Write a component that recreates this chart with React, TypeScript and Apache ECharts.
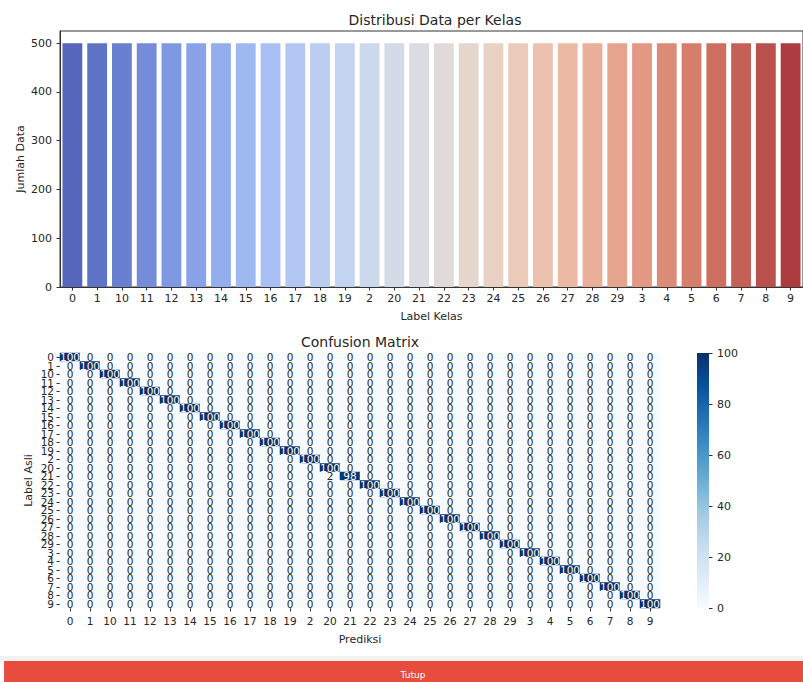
import React, { useEffect, useRef } from "react";
import * as echarts from "echarts";

const classLabels = [
  "0", "1", "10", "11", "12", "13", "14", "15", "16", "17", "18", "19",
  "2", "20", "21", "22", "23", "24", "25", "26", "27", "28", "29",
  "3", "4", "5", "6", "7", "8", "9",
];
const sampleCounts = [
  500, 500, 500, 500, 500, 500, 500, 500, 500, 500, 500, 500, 500, 500, 500,
  500, 500, 500, 500, 500, 500, 500, 500, 500, 500, 500, 500, 500, 500, 500,
];
const countTicks = [0, 100, 200, 300, 400, 500];
// confusion matrix: diagonal (correct) per actual class, in classLabels order
const diagonalCounts = [
  100, 100, 100, 100, 100, 100, 100, 100, 100, 100, 100, 100, 100, 100, 98,
  100, 100, 100, 100, 100, 100, 100, 100, 100, 100, 100, 100, 100, 100, 100,
];
const offDiagonal = [{ actual: "21", predicted: "20", value: 2 }];
const colorbarTicks = [0, 20, 40, 60, 80, 100];

const FONT = "DejaVu Sans";
const TXT = "#262626";

// Moreland coolwarm table
const COOLWARM: number[][] = [
  [59, 76, 192], [68, 90, 204], [77, 104, 215], [87, 117, 225], [98, 130, 234],
  [108, 142, 241], [119, 154, 247], [130, 165, 251], [141, 176, 254], [152, 185, 255],
  [163, 194, 255], [174, 201, 253], [184, 208, 249], [194, 213, 244], [204, 217, 238],
  [213, 219, 230], [221, 221, 221], [229, 216, 209], [236, 211, 197], [241, 204, 185],
  [245, 196, 173], [247, 187, 160], [247, 177, 148], [247, 166, 135], [244, 154, 123],
  [241, 141, 111], [236, 127, 99], [229, 112, 88], [222, 96, 77], [213, 80, 66],
  [203, 62, 56], [192, 40, 47], [180, 4, 38],
];
const BLUES = ["#f7fbff", "#deebf7", "#c6dbef", "#9ecae1", "#6baed6", "#4292c6", "#2171b5", "#08519c", "#08306b"];

function coolwarmAt(t: number): number[] {
  const p = t * (COOLWARM.length - 1);
  const i = Math.min(Math.floor(p), COOLWARM.length - 2);
  const f = p - i;
  return COOLWARM[i].map((v, k) => v + (COOLWARM[i + 1][k] - v) * f);
}

function desaturate(rgb: number[], prop: number): string {
  const [r, g, b] = rgb.map((v) => v / 255);
  const mx = Math.max(r, g, b), mn = Math.min(r, g, b);
  const l = (mx + mn) / 2;
  let h = 0, s = 0;
  if (mx !== mn) {
    const d = mx - mn;
    s = l > 0.5 ? d / (2 - mx - mn) : d / (mx + mn);
    if (mx === r) h = ((g - b) / d + (g < b ? 6 : 0)) / 6;
    else if (mx === g) h = ((b - r) / d + 2) / 6;
    else h = ((r - g) / d + 4) / 6;
  }
  s *= prop;
  const hue2rgb = (p: number, q: number, t: number) => {
    if (t < 0) t += 1;
    if (t > 1) t -= 1;
    if (t < 1 / 6) return p + (q - p) * 6 * t;
    if (t < 1 / 2) return q;
    if (t < 2 / 3) return p + (q - p) * (2 / 3 - t) * 6;
    return p;
  };
  let rr = l, gg = l, bb = l;
  if (s !== 0) {
    const q = l < 0.5 ? l * (1 + s) : l + s - l * s;
    const p = 2 * l - q;
    rr = hue2rgb(p, q, h + 1 / 3);
    gg = hue2rgb(p, q, h);
    bb = hue2rgb(p, q, h - 1 / 3);
  }
  return `rgb(${Math.round(rr * 255)},${Math.round(gg * 255)},${Math.round(bb * 255)})`;
}

export default function App() {
  const ref = useRef<HTMLDivElement>(null);
  useEffect(() => {
    if (!ref.current) return;
    const chart = echarts.init(ref.current, undefined, { renderer: "svg" });
    const n = classLabels.length;

    const barData = sampleCounts.map((v, i) => ({
      value: v,
      itemStyle: { color: desaturate(coolwarmAt((i + 1) / (n + 1)), 0.75) },
    }));

    const heatData: any[] = [];
    for (let r = 0; r < n; r++) {
      for (let c = 0; c < n; c++) {
        let v = 0;
        if (r === c) v = diagonalCounts[r];
        const off = offDiagonal.find((o) => o.actual === classLabels[r] && o.predicted === classLabels[c]);
        if (off) v = off.value;
        heatData.push({ value: [c, r, v], label: { color: v > 50 ? "#ffffff" : TXT } });
      }
    }

    const option: any = {
      animation: false,
      backgroundColor: "#ffffff",
      textStyle: { fontFamily: FONT },
      grid: [
        { left: 60, top: 31, width: 750, height: 256, show: true, borderColor: "#333333", borderWidth: 1, backgroundColor: "transparent" },
        { left: 60, top: 353, width: 600, height: 255 },
        { left: 697, top: 353, width: 12, height: 255 },
      ],
      xAxis: [
        {
          type: "category", gridIndex: 0, data: classLabels,
          name: "Label Kelas", nameLocation: "middle", nameGap: 24, nameMoveOverlap: false,
          nameTextStyle: { fontSize: 11, color: TXT, fontFamily: FONT },
          axisLine: { show: true, lineStyle: { color: "#333333" } },
          axisTick: { show: true, alignWithLabel: true, length: 3.5, lineStyle: { color: "#333333" } },
          axisLabel: { interval: 0, fontSize: 11, color: TXT, margin: 6, fontFamily: FONT },
        },
        {
          type: "category", gridIndex: 1, data: classLabels,
          name: "Prediksi", nameLocation: "middle", nameGap: 26, nameMoveOverlap: false,
          nameTextStyle: { fontSize: 11, color: TXT, fontFamily: FONT },
          axisLine: { show: false },
          axisTick: { show: true, alignWithLabel: true, length: 3.5, lineStyle: { color: "#333333" } },
          axisLabel: { interval: 0, fontSize: 10.5, color: TXT, margin: 7, fontFamily: FONT },
          splitLine: { show: false },
        },
        {
          type: "category", gridIndex: 2, data: ["cb"], show: false,
        },
      ],
      yAxis: [
        {
          type: "value", gridIndex: 0, min: 0, max: 525,
          name: "Jumlah Data", nameLocation: "middle", nameGap: 34, nameMoveOverlap: false,
          nameTextStyle: { fontSize: 11, color: TXT, fontFamily: FONT },
          axisLine: { show: true, lineStyle: { color: "#333333" } },
          axisTick: { show: true, length: 3.5, customValues: countTicks, lineStyle: { color: "#333333" } },
          axisLabel: { fontSize: 11, color: TXT, margin: 8, customValues: countTicks, fontFamily: FONT },
          splitLine: { show: false },
        },
        {
          type: "category", gridIndex: 1, data: classLabels, inverse: true,
          name: "Label Asli", nameLocation: "middle", nameGap: 26, nameMoveOverlap: false,
          nameTextStyle: { fontSize: 11, color: TXT, fontFamily: FONT },
          axisLine: { show: false },
          axisTick: { show: true, alignWithLabel: true, length: 3.5, lineStyle: { color: "#333333" } },
          axisLabel: { interval: 0, fontSize: 10.5, color: TXT, margin: 6, fontFamily: FONT },
          splitLine: { show: false },
        },
        {
          type: "value", gridIndex: 2, min: 0, max: 100, interval: 20, position: "right",
          axisLine: { show: false },
          axisTick: { show: true, length: 3.5, lineStyle: { color: "#333333" } },
          axisLabel: { fontSize: 11, color: TXT, margin: 8, fontFamily: FONT },
          splitLine: { show: false },
        },
      ],
      visualMap: {
        show: false, min: 0, max: 100, seriesIndex: 1, dimension: 2,
        inRange: { color: BLUES },
      },
      series: [
        {
          type: "bar", xAxisIndex: 0, yAxisIndex: 0, data: barData, barWidth: "80%",
        },
        {
          type: "heatmap", xAxisIndex: 1, yAxisIndex: 1, data: heatData,
          label: { show: true, fontSize: 10.5, fontFamily: FONT },
          itemStyle: { borderWidth: 0 },
          emphasis: { disabled: true },
        },
        {
          type: "bar", xAxisIndex: 2, yAxisIndex: 2, data: [colorbarTicks[colorbarTicks.length - 1]], barWidth: "100%",
          itemStyle: {
            color: new echarts.graphic.LinearGradient(0, 1, 0, 0,
              BLUES.map((c, i) => ({ offset: i / (BLUES.length - 1), color: c }))),
          },
        },
      ],
      graphic: [
        { type: "text", x: 435, y: 20, style: { text: "Distribusi Data per Kelas", fontSize: 14, fill: TXT, fontFamily: FONT, textAlign: "center", textVerticalAlign: "middle" } },
        { type: "text", x: 360, y: 342, style: { text: "Confusion Matrix", fontSize: 14, fill: TXT, fontFamily: FONT, textAlign: "center", textVerticalAlign: "middle" } },
        { type: "rect", shape: { x: 0, y: 656, width: 803, height: 5 }, style: { fill: "#f2f2f2" } },
        { type: "rect", shape: { x: 4, y: 661, width: 799, height: 21 }, style: { fill: "#e74c3c" } },
        { type: "text", x: 413, y: 675, style: { text: "Tutup", fontSize: 9, fill: "#ffffff", fontFamily: FONT, textAlign: "center", textVerticalAlign: "middle" } },
      ],
    };
    chart.setOption(option);
    return () => chart.dispose();
  }, []);
  return <div ref={ref} style={{ position: "absolute", left: 0, top: 0, width: 803, height: 682 }} />;
}
